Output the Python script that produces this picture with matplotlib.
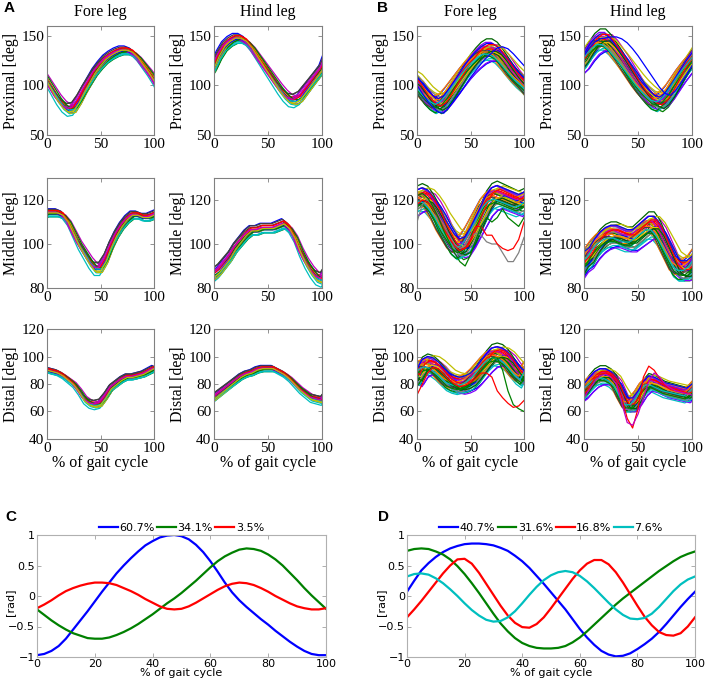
import numpy as np
import matplotlib
matplotlib.use('Agg')
from matplotlib import pyplot as plt

# gait cycle sample positions (%)
PCT = np.arange(0, 101, 5)
PCT_FINE = np.arange(0, 100.1, 2.5)

# ---- panel A : mean joint-angle curves (deg) ----
a_prox_fore = [105, 96, 87, 80, 76, 77, 85, 95, 104, 113, 120, 126, 130, 133, 135, 135, 133, 128, 121, 114, 106]
a_prox_hind = [118, 130, 139, 144, 147, 147, 144, 138, 130, 122, 114, 106, 98, 91, 86, 85, 88, 95, 102, 109, 116]
a_mid_fore = [114, 114, 114, 113, 110, 105, 100, 96, 92, 89, 89, 93, 99, 104, 108, 111, 113, 113, 112, 112, 113]
a_mid_hind = [86, 88, 91, 94, 98, 101, 104, 106, 106, 107, 107, 107, 108, 109, 107, 103, 97, 92, 88, 85, 84]
a_dist_fore = [90, 89, 88, 86, 83, 80, 75, 69, 66, 65, 66, 71, 77, 80, 83, 85, 85, 86, 87, 89, 91]
a_dist_hind = [70, 73, 76, 79, 82, 85, 87, 88, 90, 91, 91, 91, 89, 87, 84, 80, 76, 73, 70, 69, 68]

# per-trace phase lag (%), vertical offset (deg) and amplitude factor, panel A
a_lags = [-3, 2, 0, -1, 3, 1, -2, 2, -1, 0, 1, -3, 2, -2, 0, 3, -1, 1, -2, 0]
a_offsets = [4, -3, 1, -5, 2, -1, 5, -2, 0, 3, -4, 1, -2, 4, -1, 0, 2, -3, 1, -1]
a_amps = [1.05, 0.95, 1.0, 1.08, 0.92, 1.02, 0.97, 1.06, 0.94, 1.0,
          1.03, 0.96, 1.07, 0.93, 1.01, 0.98, 1.04, 0.95, 1.0, 1.06]

# ---- panel B ----
b_prox_fore = [102, 95, 88, 83, 80, 83, 90, 98, 106, 114, 121, 127, 132, 135, 135, 132, 126, 119, 112, 106, 101]
b_prox_hind = [125, 134, 141, 145, 145, 140, 133, 126, 118, 110, 102, 95, 89, 84, 82, 86, 93, 102, 111, 119, 126]
b_mid_fore = [120, 121, 120, 117, 113, 108, 104, 100, 98, 99, 103, 108, 113, 118, 121, 122, 121, 120, 119, 118, 119]
b_mid_hind = [92, 94, 98, 101, 103, 104, 104, 103, 102, 102, 104, 106, 108, 108, 105, 100, 95, 90, 88, 88, 90]
b_dist_fore = [85, 92, 94, 93, 90, 86, 82, 80, 79, 80, 82, 86, 91, 96, 100, 101, 100, 97, 92, 87, 84]
b_dist_hind = [75, 80, 84, 86, 86, 84, 80, 72, 65, 65, 70, 77, 81, 80, 78, 76, 75, 74, 73, 72, 75]

b_lags = [-5, 3, 0, -2, 6, 1, -4, 4, -1, 2, -6, 0, 5, -3, 1, -2, 3, -5, 2, 0,
          4, -1, -4, 1, 6, -3, 0, 2, -2, 5, -6, 3, -1, 1, -4, 4, 0, -2, 2, -3]
b_offsets = [3, -4, 1, -6, 2, 5, -1, 0, -3, 4, -2, 6, -5, 1, 3, -4, 0, 2, -1, 5,
             -6, 1, 4, -2, 0, -3, 3, -5, 2, 6, -1, 0, 4, -4, 1, -2, 5, -3, 2, -1]
b_amps = [0.9, 1.1, 1.0, 0.95, 1.12, 0.88, 1.05, 0.97, 1.08, 0.92, 1.0, 1.14, 0.86, 1.03, 0.95, 1.1, 0.9, 1.06, 0.98, 1.02,
          0.93, 1.09, 0.87, 1.04, 1.0, 1.12, 0.91, 0.96, 1.07, 0.89, 1.05, 0.94, 1.11, 0.99, 0.9, 1.08, 1.01, 0.95, 1.13, 0.92]

# single traces that leave the bundle in panel B
b_prox_fore_out = [100, 92, 84, 78, 73, 72, 78, 85, 92, 100, 108, 115, 122, 128, 133, 138, 139, 137, 132, 126, 120]
b_prox_hind_out = [130, 138, 144, 147, 148, 149, 149, 147, 143, 137, 130, 122, 114, 106, 98, 92, 90, 95, 103, 111, 120]
b_mid_fore_out1 = [110, 118, 120, 117, 113, 108, 104, 100, 98, 99, 103, 105, 104, 101, 100, 100, 96, 92, 92, 96, 103]
b_mid_fore_out2 = [118, 120, 119, 116, 112, 107, 103, 99, 97, 98, 102, 108, 108, 104, 104, 100, 98, 97, 98, 102, 110]
b_mid_fore_out3 = [122, 123, 121, 117, 112, 106, 101, 96, 92, 90, 95, 102, 108, 112, 110, 112, 116, 112, 110, 108, 112]
b_dist_fore_out1 = [78, 84, 90, 92, 90, 86, 82, 79, 77, 78, 80, 85, 90, 95, 99, 99, 90, 75, 65, 62, 60]
b_dist_fore_out2 = [72, 80, 88, 92, 91, 87, 83, 80, 78, 79, 81, 84, 88, 88, 85, 75, 70, 66, 63, 64, 68]
b_dist_hind_out1 = [72, 78, 84, 87, 88, 86, 82, 70, 55, 48, 62, 85, 93, 90, 84, 79, 76, 75, 74, 73, 74]
b_dist_hind_out2 = [70, 76, 82, 86, 87, 85, 80, 66, 52, 50, 58, 70, 82, 88, 85, 80, 77, 75, 74, 73, 72]

# ---- panels C, D : principal components (rad), sampled every 2.5 % ----
c_labels = ['60.7%', '34.1%', '3.5%']
c_pc1 = [-0.97, -0.95, -0.90, -0.82, -0.70, -0.55, -0.40, -0.25, -0.09, 0.07, 0.22, 0.37, 0.50, 0.62,
         0.73, 0.83, 0.90, 0.96, 0.99, 1.0, 0.98, 0.93, 0.84, 0.72, 0.57, 0.40, 0.22, 0.06, -0.07,
         -0.18, -0.28, -0.38, -0.47, -0.57, -0.66, -0.75, -0.83, -0.90, -0.95, -0.97, -0.97]
c_pc2 = [-0.22, -0.31, -0.40, -0.48, -0.55, -0.61, -0.65, -0.69, -0.70, -0.70, -0.68, -0.64, -0.59, -0.53,
         -0.46, -0.38, -0.30, -0.21, -0.12, -0.04, 0.05, 0.15, 0.25, 0.36, 0.47, 0.57, 0.65, 0.71, 0.76,
         0.78, 0.77, 0.74, 0.68, 0.60, 0.50, 0.38, 0.26, 0.13, 0.01, -0.10, -0.21]
c_pc3 = [-0.20, -0.14, -0.07, 0.01, 0.08, 0.13, 0.17, 0.20, 0.22, 0.22, 0.21, 0.18, 0.13, 0.08,
         0.02, -0.05, -0.11, -0.17, -0.21, -0.22, -0.21, -0.17, -0.11, -0.04, 0.03, 0.10, 0.16, 0.20, 0.22,
         0.21, 0.18, 0.13, 0.07, 0.0, -0.06, -0.12, -0.17, -0.20, -0.22, -0.22, -0.20]

d_labels = ['40.7%', '31.6%', '16.8%', '7.6%']
d_pc1 = [0.07, 0.25, 0.42, 0.54, 0.64, 0.72, 0.78, 0.82, 0.85, 0.86, 0.86, 0.85, 0.83, 0.79,
         0.74, 0.66, 0.57, 0.46, 0.33, 0.20, 0.06, -0.08, -0.22, -0.38, -0.54, -0.68, -0.80, -0.90, -0.96,
         -0.99, -0.98, -0.94, -0.87, -0.79, -0.70, -0.59, -0.46, -0.32, -0.18, -0.05, 0.07]
d_pc2 = [0.74, 0.77, 0.78, 0.77, 0.73, 0.68, 0.60, 0.49, 0.36, 0.21, 0.05, -0.12, -0.29, -0.45,
         -0.58, -0.69, -0.77, -0.82, -0.85, -0.86, -0.86, -0.85, -0.82, -0.76, -0.68, -0.58, -0.47, -0.36, -0.25,
         -0.14, -0.04, 0.05, 0.14, 0.23, 0.32, 0.41, 0.49, 0.57, 0.64, 0.69, 0.73]
d_pc3 = [-0.35, -0.22, -0.08, 0.07, 0.22, 0.37, 0.50, 0.60, 0.61, 0.53, 0.38, 0.20, 0.02, -0.16,
         -0.32, -0.44, -0.51, -0.52, -0.46, -0.35, -0.20, -0.04, 0.12, 0.28, 0.42, 0.53, 0.59, 0.59, 0.52,
         0.39, 0.22, 0.03, -0.16, -0.34, -0.48, -0.59, -0.64, -0.65, -0.61, -0.50, -0.35]
d_pc4 = [0.32, 0.36, 0.37, 0.35, 0.29, 0.21, 0.11, 0.0, -0.12, -0.23, -0.32, -0.39, -0.42, -0.41,
         -0.35, -0.25, -0.12, 0.02, 0.15, 0.26, 0.34, 0.39, 0.41, 0.39, 0.33, 0.24, 0.13, 0.01, -0.11,
         -0.22, -0.31, -0.37, -0.38, -0.36, -0.29, -0.18, -0.05, 0.08, 0.19, 0.27, 0.32]

# MATLAB-ish line colours
TRACE_COLORS = ['#0000ff', '#008000', '#ff0000', '#00bfbf', '#bf00bf', '#bfbf00', '#404040',
                '#e6c800', '#8000ff', '#808080', '#ff7f00', '#006400']

SERIF = 'Liberation Serif'
FIG_W, FIG_H = 708, 687


def ax_rect(left, top, right, bottom):
    return [left / FIG_W, 1 - bottom / FIG_H, (right - left) / FIG_W, (bottom - top) / FIG_H]


def draw_bundle(ax, base, lags, offsets, amps, lag_scale, dy_scale, ncol):
    base = np.asarray(base, dtype=float)
    mid = base.mean()
    # the cycle wraps, so the curve is repeated on both sides before shifting
    xs = np.concatenate([PCT[:-1] - 100, PCT, PCT[1:] + 100])
    ys = np.concatenate([base[:-1], base, base[1:]])
    for i, (lag, dy, amp) in enumerate(zip(lags, offsets, amps)):
        ax.plot(xs + lag * lag_scale, mid + (ys - mid) * amp + dy * dy_scale,
                color=TRACE_COLORS[i % ncol], lw=0.9)


def style_joint_axes(ax, ylim, yticks, ylabel, title=None, bottom=False):
    ax.set_xlim(0, 100)
    ax.set_ylim(*ylim)
    ax.set_xticks([0, 50, 100])
    ax.set_yticks(yticks)
    ax.tick_params(direction='in', length=3, width=0.6, color='#808080', top=True, right=True,
                   labelsize=11, pad=2)
    for lab in ax.get_xticklabels() + ax.get_yticklabels():
        lab.set_family(SERIF)
    for sp in ax.spines.values():
        sp.set_color('#808080')
        sp.set_linewidth(0.8)
    ax.set_ylabel(ylabel, family=SERIF, fontsize=11.5, labelpad=2)
    if title:
        ax.set_title(title, family=SERIF, fontsize=11.5, pad=7)
    if bottom:
        ax.set_xlabel('% of gait cycle', family=SERIF, fontsize=11.5, labelpad=0)


fig = plt.figure(figsize=(7.08, 6.87), dpi=100)

rows = [(26, 135), (178, 288), (329, 439)]
cols_a = [(47, 154), (214, 322)]
cols_b = [(417, 524), (584, 692)]

a_data = [
    [(a_prox_fore, 1.0, 0.9), (a_prox_hind, 1.0, 1.0)],
    [(a_mid_fore, 0.8, 0.4), (a_mid_hind, 0.8, 0.5)],
    [(a_dist_fore, 0.7, 0.5), (a_dist_hind, 0.7, 0.5)],
]
b_data = [
    [(b_prox_fore, 1.0, 1.4), (b_prox_hind, 1.0, 1.3)],
    [(b_mid_fore, 1.2, 0.9), (b_mid_hind, 1.0, 0.9)],
    [(b_dist_fore, 1.2, 1.2), (b_dist_hind, 0.8, 1.0)],
]
b_outliers = [
    [[(b_prox_fore_out, '#0000ff')], [(b_prox_hind_out, '#0000ff')]],
    [[(b_mid_fore_out1, '#808080'), (b_mid_fore_out2, '#ff0000'), (b_mid_fore_out3, '#008000')], []],
    [[(b_dist_fore_out1, '#008000'), (b_dist_fore_out2, '#ff0000')],
     [(b_dist_hind_out1, '#ff0000'), (b_dist_hind_out2, '#bf00bf')]],
]
row_specs = [((50, 160), [50, 100, 150], 'Proximal [deg]'),
             ((80, 130), [80, 100, 120], 'Middle [deg]'),
             ((40, 120), [40, 60, 80, 100, 120], 'Distal [deg]')]
titles = ['Fore leg', 'Hind leg']

for r, (top, bot) in enumerate(rows):
    ylim, yticks, ylabel = row_specs[r]
    for c in range(2):
        # A
        ax = fig.add_axes(ax_rect(cols_a[c][0], top, cols_a[c][1], bot))
        base, ls, ds = a_data[r][c]
        draw_bundle(ax, base, a_lags, a_offsets, a_amps, ls, ds, 7)
        style_joint_axes(ax, ylim, yticks, ylabel, titles[c] if r == 0 else None, r == 2)
        # B
        ax = fig.add_axes(ax_rect(cols_b[c][0], top, cols_b[c][1], bot))
        base, ls, ds = b_data[r][c]
        draw_bundle(ax, base, b_lags, b_offsets, b_amps, ls, ds, 12)
        for trace, col in b_outliers[r][c]:
            ax.plot(PCT, trace, color=col, lw=0.9)
        style_joint_axes(ax, ylim, yticks, ylabel, titles[c] if r == 0 else None, r == 2)


def pc_axes(rect, series, labels, colors, ylab_x):
    ax = fig.add_axes(rect)
    for ys, lab, col in zip(series, labels, colors):
        ax.plot(PCT_FINE, ys, color=col, lw=1.6, label=lab)
    ax.set_xlim(0, 100)
    ax.set_ylim(-1, 1)
    ax.set_xticks([0, 20, 40, 60, 80, 100])
    ax.set_yticks([-1, -0.5, 0, 0.5, 1])
    ax.set_yticklabels(['\u22121', '\u22120.5', '0', '0.5', '1'])
    ax.tick_params(direction='in', length=3, width=0.6, color='#a0a0a0', top=True, right=True,
                   labelsize=8, pad=1.5)
    for sp in ax.spines.values():
        sp.set_color('#b0b0b0')
        sp.set_linewidth(0.8)
    ax.set_xlabel('% of gait cycle', fontsize=8, labelpad=-1)
    ax.set_ylabel('[rad]', fontsize=8)
    ax.yaxis.set_label_coords(ylab_x, 0.45)
    ax.legend(loc='lower center', bbox_to_anchor=(0.5, 1.0), ncol=len(labels), frameon=False,
              fontsize=8, handlelength=1.7, handletextpad=0.15, columnspacing=0.2,
              borderaxespad=0.0, borderpad=0.2)
    return ax


pc_axes(ax_rect(37, 535, 326, 657), [c_pc1, c_pc2, c_pc3], c_labels,
        ['#0000ff', '#008000', '#ff0000'], -0.075)
pc_axes(ax_rect(407, 535, 695, 657), [d_pc1, d_pc2, d_pc3, d_pc4], d_labels,
        ['#0000ff', '#008000', '#ff0000', '#00bfbf'], -0.072)

# panel letters
for letter, x, y in [('A', 4, 8), ('B', 377, 8), ('C', 5, 517), ('D', 378, 517)]:
    fig.text(x / FIG_W, 1 - y / FIG_H, letter, family='Liberation Sans', weight='bold',
             fontsize=11, ha='left', va='center')

fig.savefig('out.png', dpi=100)
